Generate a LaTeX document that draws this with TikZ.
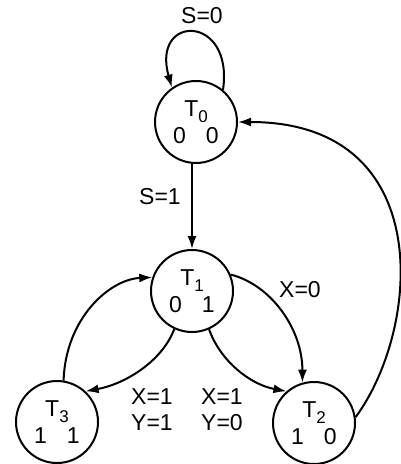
\documentclass[tikz,border=0pt]{standalone}
\usepackage{fontspec}
\setmainfont{Liberation Sans}
\usetikzlibrary{arrows.meta}
\newcommand\stsub[1]{\raisebox{-3pt}{\fontsize{8.5}{8.5}\selectfont #1}}
\begin{document}
\begin{tikzpicture}[x=0.5pt,y=-0.5pt,
  state/.style={circle,draw,line width=1pt,minimum size=41pt,inner sep=0pt,align=center,font=\fontsize{11.5}{13.5}\selectfont},
  lbl/.style={font=\fontsize{11.5}{13}\selectfont,align=center,inner sep=0pt},
  edge/.style={line width=1pt,-{Latex[length=6.5pt,width=4.5pt]}}]
\useasboundingbox (0,0) rectangle (400,464);
\fill[white] (0,0) rectangle (400,464);

\node[state] (T0) at (196,122) {T\stsub{0}\\0\hspace{10pt}0};
\node[state] (T1) at (192,291) {T\stsub{1}\\0\hspace{10pt}1};
\node[state] (T3) at (57,422) {T\stsub{3}\\1\hspace{10pt}1};
\node[state] (T2) at (314,423) {T\stsub{2}\\1\hspace{10pt}0};

\node[lbl] (l0) at (202,16) {S=0};
\node[lbl] (l1) at (160,197) {S=1};
\node[lbl] (l2) at (300,290) {X=0};
\node[lbl] (l3) at (152,410) {X=1\\Y=1};
\node[lbl] (l4) at (222,410) {X=1\\Y=0};

\draw[edge] (T0.50) .. controls +(11,-76) and +(-21,-74) .. (T0.125);
\draw[edge] (T0.south -| T1.north) -- (T1.north);
\draw[edge] (T2.8) .. controls +(65,-88) and +(200,0) .. (T0.east);
\draw[edge] (T1.23) .. controls +(40,10) and +(0,-54) .. (T2.106);
\draw[edge] (T1.-66) .. controls +(11,31) and +(-37,-7) .. (T2.131);
\draw[edge] (T1.-115) .. controls +(-12,32) and +(40,-7.5) .. (T3.47);
\draw[edge] (T3.81) .. controls +(2,-62) and +(-43,2) .. (T1.161);
\end{tikzpicture}
\end{document}
